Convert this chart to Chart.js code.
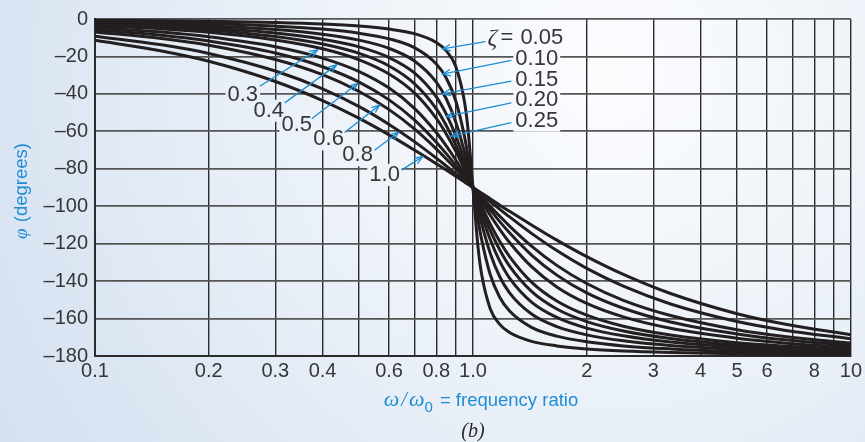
<!DOCTYPE html>
<html>
<head>
<meta charset="utf-8">
<script src="https://cdn.jsdelivr.net/npm/chart.js@4.4.0/dist/chart.umd.min.js"></script>
<style>
  html, body { margin: 0; padding: 0; background: #e3ebf6; }
  #wrap { width: 865px; height: 442px; position: relative; }
</style>
</head>
<body>
<div id="wrap"><canvas id="phaseChart"></canvas></div>
<script>
// Phase angle vs frequency ratio, one curve per damping ratio

// frequency ratio samples (w / w0)
const ratios = [0.1, 0.15, 0.2, 0.3, 0.4, 0.5, 0.6, 0.7, 0.8, 0.85, 0.9, 0.95, 0.97, 1.0,
                1.031, 1.053, 1.111, 1.176, 1.25, 1.429, 1.667, 2, 2.5, 3.333, 5, 6.667, 10];

// phase in degrees
const phase005 = [-0.6, -0.9, -1.2, -1.9, -2.7, -3.8, -5.4, -7.8, -12.5, -17.0, -25.3, -44.3, -58.6, -90,
                  -121.4, -135.7, -154.7, -163.0, -167.5, -172.2, -174.6, -176.2, -177.3, -178.1, -178.8, -179.1, -179.4];
const phase010 = [-1.2, -1.8, -2.4, -3.8, -5.4, -7.6, -10.6, -15.3, -24.0, -31.5, -43.5, -62.8, -73.1, -90,
                  -106.9, -117.2, -136.5, -148.5, -156.0, -164.7, -169.4, -172.4, -174.6, -176.2, -177.6, -178.2, -178.8];
const phase015 = [-1.7, -2.6, -3.6, -5.6, -8.1, -11.3, -15.7, -22.4, -33.7, -42.6, -54.9, -71.1, -78.5, -90,
                  -101.5, -108.9, -125.1, -137.4, -146.3, -157.6, -164.3, -168.7, -171.9, -174.4, -176.4, -177.4, -178.3];
const phase020 = [-2.3, -3.5, -4.8, -7.5, -10.8, -14.9, -20.6, -28.8, -41.6, -50.8, -62.2, -75.6, -81.3, -90,
                  -98.7, -104.4, -117.8, -129.2, -138.4, -151.2, -159.4, -165.1, -169.2, -172.5, -175.2, -176.5, -177.7];
const phase025 = [-2.9, -4.4, -5.9, -9.4, -13.4, -18.4, -25.1, -34.5, -48.0, -56.9, -67.1, -78.4, -83.1, -90,
                  -96.9, -101.6, -112.9, -123.1, -132.0, -145.5, -154.9, -161.6, -166.6, -170.6, -174.1, -175.6, -177.1];
const phase030 = [-3.5, -5.3, -7.1, -11.2, -15.9, -21.8, -29.4, -39.5, -53.1, -61.4, -70.6, -80.3, -84.2, -90,
                  -95.8, -99.7, -109.4, -118.6, -126.9, -140.5, -150.6, -158.2, -164.1, -168.8, -172.9, -174.7, -176.5];
const phase040 = [-4.6, -7.0, -9.5, -14.8, -20.9, -28.1, -36.9, -47.7, -60.6, -67.8, -75.2, -82.7, -85.6, -90,
                  -94.4, -97.3, -104.8, -112.2, -119.4, -132.3, -143.1, -151.9, -159.1, -165.2, -170.5, -173.0, -175.4];
const phase050 = [-5.8, -8.7, -11.8, -18.2, -25.5, -33.7, -43.2, -53.9, -65.8, -71.9, -78.1, -84.1, -86.5, -90,
                  -93.5, -95.9, -101.9, -108.1, -114.2, -126.1, -136.8, -146.3, -154.5, -161.8, -168.2, -171.3, -174.2];
const phase060 = [-6.9, -10.4, -14.0, -21.6, -29.7, -38.7, -48.4, -58.7, -69.4, -74.8, -80.0, -85.1, -87.1, -90,
                  -92.9, -94.9, -100.0, -105.2, -110.6, -121.3, -131.6, -141.3, -150.3, -158.4, -166.0, -169.6, -173.1];
const phase080 = [-9.2, -13.8, -18.4, -27.8, -37.3, -46.8, -56.3, -65.5, -74.3, -78.5, -82.5, -86.3, -87.8, -90,
                  -92.2, -93.7, -97.5, -101.5, -105.7, -114.5, -123.7, -133.2, -142.7, -152.2, -161.6, -166.2, -170.8];
const phase100 = [-11.4, -17.1, -22.6, -33.4, -43.6, -53.1, -61.9, -70.0, -77.3, -80.7, -84.0, -87.1, -88.3, -90,
                  -91.7, -92.9, -96.0, -99.3, -102.7, -110.0, -118.1, -126.9, -136.4, -146.6, -157.4, -162.9, -168.6];

const zetaNames = ['0.05', '0.10', '0.15', '0.20', '0.25', '0.3', '0.4', '0.5', '0.6', '0.8', '1.0'];
const phaseSeries = [phase005, phase010, phase015, phase020, phase025, phase030,
                     phase040, phase050, phase060, phase080, phase100];

// axis ticks
const xGridValues = [0.1, 0.2, 0.3, 0.4, 0.5, 0.6, 0.7, 0.8, 0.9, 1, 2, 3, 4, 5, 6, 7, 8, 9, 10];
const xTickText = ['0.1', '0.2', '0.3', '0.4', '', '0.6', '', '0.8', '', '1.0',
                   '2', '3', '4', '5', '6', '', '8', '', '10'];
const yTickValues = [0, -20, -40, -60, -80, -100, -120, -140, -160, -180];

// curve labels with arrows (data coordinates: [ratio, degrees])
const curveNotes = [
    { text: '0.05', zeta: true, align: 'left', at: [1.092, -10.0], tail: [1.079, -12.1], tip: [0.831, -16.0] },
    { text: '0.10', align: 'left', at: [1.295, -21.1], tail: [1.264, -22.1], tip: [0.831, -29.5] },
    { text: '0.15', align: 'left', at: [1.295, -32.7], tail: [1.264, -33.2], tip: [0.831, -40.0] },
    { text: '0.20', align: 'left', at: [1.295, -43.2], tail: [1.264, -44.8], tip: [0.851, -52.0] },
    { text: '0.25', align: 'left', at: [1.295, -54.3], tail: [1.264, -55.4], tip: [0.877, -62.5] },
    { text: '0.3', align: 'center', at: [0.246, -40.6], tail: [0.2729, -35.9], tip: [0.388, -16.5] },
    { text: '0.4', align: 'center', at: [0.2882, -49.0], tail: [0.3177, -44.8], tip: [0.4358, -24.5] },
    { text: '0.5', align: 'center', at: [0.3418, -56.4], tail: [0.3744, -53.3], tip: [0.4952, -34.5] },
    { text: '0.6', align: 'center', at: [0.4151, -64.3], tail: [0.4575, -60.6], tip: [0.5662, -46.0] },
    { text: '0.8', align: 'center', at: [0.4952, -72.8], tail: [0.5493, -70.1], tip: [0.6355, -60.5] },
    { text: '1.0', align: 'center', at: [0.5838, -83.3], tail: [0.6474, -80.7], tip: [0.7356, -73.5] }
];

const INK = '#363636';
const BLUE = '#1f8dd3';
const SANS = '"Liberation Sans", Arial, sans-serif';
const SERIF = '"Liberation Serif", "Times New Roman", serif';

function makeBackdrop(ctx) {
    const g = ctx.createRadialGradient(610, 70, 10, 610, 70, 760);
    g.addColorStop(0, '#fbfcfe');
    g.addColorStop(0.35, '#eef3f9');
    g.addColorStop(0.75, '#dce6f3');
    g.addColorStop(1, '#d2def0');
    return g;
}

const backdropPlugin = {
    id: 'backdrop',
    beforeDraw(chart) {
        const ctx = chart.ctx;
        ctx.save();
        ctx.fillStyle = makeBackdrop(ctx);
        ctx.fillRect(0, 0, chart.width, chart.height);
        ctx.restore();
    }
};

function noteFont() { return '22px ' + SANS; }

function notePixels(chart, note) {
    const xs = chart.scales.x, ys = chart.scales.y;
    const px = p => [xs.getPixelForValue(p[0]), ys.getPixelForValue(p[1])];
    return { at: px(note.at), tail: px(note.tail), tip: px(note.tip) };
}

function noteBox(ctx, note, at) {
    ctx.font = noteFont();
    let w = ctx.measureText(note.text).width;
    if (note.zeta) w += 34;
    const left = note.align === 'left' ? at[0] : at[0] - w / 2;
    return { left: left - 2, top: at[1] - 11, width: w + 4, height: 22 };
}

// masks the grid under each label, before curves are drawn
const noteMaskPlugin = {
    id: 'noteMask',
    beforeDatasetsDraw(chart) {
        const ctx = chart.ctx;
        ctx.save();
        ctx.fillStyle = makeBackdrop(ctx);
        curveNotes.forEach(note => {
            const p = notePixels(chart, note);
            const b = noteBox(ctx, note, p.at);
            ctx.fillRect(b.left, b.top, b.width, b.height);
        });
        ctx.restore();
    }
};

function drawArrow(ctx, from, to) {
    ctx.beginPath();
    ctx.moveTo(from[0], from[1]);
    ctx.lineTo(to[0], to[1]);
    ctx.stroke();
    const a = Math.atan2(to[1] - from[1], to[0] - from[0]);
    const len = 8, half = 3.2;
    ctx.beginPath();
    ctx.moveTo(to[0] - len * Math.cos(a) + half * Math.sin(a), to[1] - len * Math.sin(a) - half * Math.cos(a));
    ctx.lineTo(to[0], to[1]);
    ctx.lineTo(to[0] - len * Math.cos(a) - half * Math.sin(a), to[1] - len * Math.sin(a) + half * Math.cos(a));
    ctx.stroke();
}

const noteTextPlugin = {
    id: 'noteText',
    afterDatasetsDraw(chart) {
        const ctx = chart.ctx;
        ctx.save();
        curveNotes.forEach(note => {
            const p = notePixels(chart, note);
            ctx.strokeStyle = BLUE;
            ctx.lineWidth = 1.3;
            drawArrow(ctx, p.tail, p.tip);

            ctx.fillStyle = INK;
            ctx.textBaseline = 'middle';
            if (note.zeta) {
                ctx.textAlign = 'left';
                ctx.font = 'italic 24px ' + SERIF;
                ctx.fillText('\u03B6', p.at[0], p.at[1] + 1);
                ctx.font = noteFont();
                ctx.fillText('=', p.at[0] + 13, p.at[1]);
                ctx.fillText(note.text, p.at[0] + 33, p.at[1]);
            } else {
                ctx.textAlign = note.align;
                ctx.font = noteFont();
                ctx.fillText(note.text, p.at[0], p.at[1]);
            }
        });
        ctx.restore();
    }
};

function drawParts(ctx, parts, startX, baseY) {
    let x = startX;
    parts.forEach(part => {
        ctx.font = part.font;
        ctx.fillText(part.text, x, baseY + (part.dy || 0));
        x += ctx.measureText(part.text).width + (part.gap || 0);
    });
}

function partsWidth(ctx, parts) {
    return parts.reduce((sum, part) => {
        ctx.font = part.font;
        return sum + ctx.measureText(part.text).width + (part.gap || 0);
    }, 0);
}

const titlesPlugin = {
    id: 'titles',
    afterDraw(chart) {
        const ctx = chart.ctx;
        ctx.save();
        ctx.textAlign = 'left';
        ctx.textBaseline = 'alphabetic';

        // x axis title
        ctx.fillStyle = BLUE;
        const xParts = [
            { text: '\u03C9', font: 'italic 22px ' + SERIF, gap: 2 },
            { text: '/', font: 'italic 20px ' + SERIF, gap: 2 },
            { text: '\u03C9', font: 'italic 22px ' + SERIF, gap: 0 },
            { text: '0', font: '15px ' + SANS, dy: 6, gap: 2 },
            { text: ' = frequency ratio', font: '18.5px ' + SANS }
        ];
        const xw = partsWidth(ctx, xParts);
        drawParts(ctx, xParts, 481 - xw / 2, 406);

        // y axis title
        const yParts = [
            { text: '\u03C6', font: 'italic 19px ' + SERIF, gap: 1 },
            { text: ' (degrees)', font: '18.5px ' + SANS }
        ];
        const yw = partsWidth(ctx, yParts);
        ctx.translate(27, 191);
        ctx.rotate(-Math.PI / 2);
        drawParts(ctx, yParts, -yw / 2, 0);
        ctx.setTransform(1, 0, 0, 1, 0, 0);

        // caption
        ctx.fillStyle = '#2a2a2a';
        ctx.textAlign = 'center';
        ctx.font = 'italic 20px ' + SERIF;
        ctx.fillText('(b)', 473, 437);
        ctx.restore();
    }
};

const datasets = phaseSeries.map((series, i) => ({
    label: '\u03B6 = ' + zetaNames[i],
    data: ratios.map((r, j) => ({ x: r, y: series[j] })),
    borderColor: '#231f20',
    borderWidth: 3,
    pointRadius: 0,
    fill: false,
    cubicInterpolationMode: 'monotone'
}));

const ctx = document.getElementById('phaseChart').getContext('2d');
new Chart(ctx, {
    type: 'line',
    data: { datasets: datasets },
    options: {
        responsive: true,
        maintainAspectRatio: false,
        animation: false,
        layout: { padding: { top: 15, right: 13, left: 0, bottom: 0 } },
        plugins: {
            legend: { display: false },
            tooltip: { enabled: false }
        },
        scales: {
            x: {
                type: 'logarithmic',
                min: 0.1,
                max: 10,
                afterBuildTicks: scale => { scale.ticks = xGridValues.map(v => ({ value: v })); },
                afterFit: scale => { scale.height = 86; },
                ticks: {
                    autoSkip: false,
                    maxRotation: 0,
                    padding: 3,
                    color: INK,
                    font: { family: SANS, size: 20 },
                    callback: value => {
                        const i = xGridValues.indexOf(value);
                        return i >= 0 ? xTickText[i] : '';
                    }
                },
                grid: { color: '#2b2b2b', lineWidth: 1.4, drawTicks: false },
                border: { color: '#2b2b2b', width: 2 }
            },
            y: {
                min: -180,
                max: 0,
                afterBuildTicks: scale => { scale.ticks = yTickValues.map(v => ({ value: v })); },
                afterFit: scale => { scale.width = 95; },
                ticks: {
                    padding: 7,
                    color: INK,
                    font: { family: SANS, size: 20 },
                    callback: value => value < 0 ? '\u2013' + Math.abs(value) : String(value)
                },
                grid: { color: '#555555', lineWidth: 1.8, drawTicks: false },
                border: { color: '#2b2b2b', width: 2 }
            }
        }
    },
    plugins: [backdropPlugin, noteMaskPlugin, noteTextPlugin, titlesPlugin]
});
</script>
</body>
</html>
